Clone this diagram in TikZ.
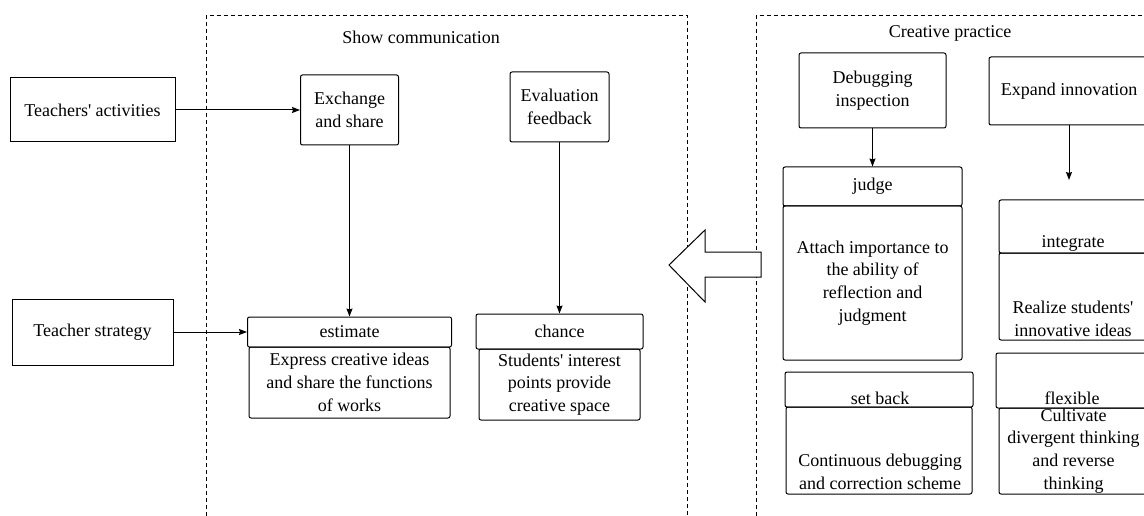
\documentclass[tikz,border=0pt]{standalone}
\usepackage{fontspec}
\setmainfont{Liberation Serif}
\usetikzlibrary{arrows.meta,positioning}

\begin{document}
\begin{tikzpicture}[x=1pt, y=-1pt, >={Stealth[length=8pt, width=6pt, inset=1pt]},
  every node/.style={font=\fontsize{18}{22.7}\selectfont, align=center, inner sep=0pt},
  plain box/.style={draw, line width=1pt},
  round box/.style={draw, line width=1pt, rounded corners=2pt},
  frame/.style={draw, line width=0.8pt, dash pattern=on 4pt off 3pt},
  link/.style={->, line width=1pt}]

\clip (0,0) rectangle (1144,516);

% dashed frames
\draw[frame] (206,530) -- (206,15.5) -- (687,15.5) -- (687,530);
\draw[frame] (756,530) -- (756,15.5) -- (1160,15.5);
\node (show-title) at (421,37) {Show communication};
\node (practice-title) at (950,33) {Creative practice};

% show communication
\node[plain box, minimum width=165, minimum height=64] (activities) at (92.5,110) {Teachers\textquotesingle{} activities};
\node[plain box, minimum width=161, minimum height=66] (strategy) at (92.5,332) {Teacher strategy};

\node[round box, minimum width=98, minimum height=70] (exchange) at (349.5,110) {Exchange\\and share};
\node[round box, minimum width=99, minimum height=70] (evaluation) at (559.5,107) {Evaluation\\feedback};

\node[round box, minimum width=204, minimum height=30] (estimate) at (349.5,332) {estimate};
\node[round box, minimum width=201, minimum height=71] (estimate-body) at (349.5,382.5)
  {Express creative ideas\\and share the functions\\of works};
\node[round box, minimum width=167, minimum height=35] (chance) at (559.5,331.5) {chance};
\node[round box, minimum width=161, minimum height=71] (chance-body) at (559.5,384.5)
  {Students\textquotesingle{} interest\\points provide\\creative space};

\draw[link] (activities) -- (exchange);
\draw[link] (strategy) -- (estimate);
\draw[link] (exchange) -- (estimate);
\draw[link] (evaluation) -- (chance);

% hollow arrow between the frames
\draw[line width=1pt, fill=white] (761,252) -- (705,252) -- (705,230) -- (669,265)
  -- (705,302) -- (705,277) -- (761,277) -- cycle;

% creative practice
\node[round box, minimum width=147, minimum height=75] (debugging) at (872.5,90.5) {Debugging\\inspection};
\node[round box, minimum width=160, minimum height=68] (expand) at (1069,91) {Expand innovation};

\node[round box, minimum width=179, minimum height=39] (judge) at (872.5,186.5) {judge};
\node[round box, minimum width=179, minimum height=154] (judge-body) at (872.5,283)
  {Attach importance to\\the ability of\\reflection and\\judgment};

\node[round box, minimum width=148, minimum height=53] (integrate) at (1073,226.5) {};
\node (integrate-text) at (1073,243) {integrate};
\node[round box, minimum width=148, minimum height=87] (integrate-body) at (1073,296.5) {};
\node (integrate-body-text) at (1073,318.5) {Realize students\textquotesingle\\innovative ideas};

\node[round box, minimum width=188, minimum height=35] (setback) at (879,389.5) {};
\node (setback-text) at (880,398) {set back};
\node[round box, minimum width=186, minimum height=87] (setback-body) at (879,450.5) {};
\node (setback-body-text) at (880,472) {Continuous debugging\\and correction scheme};

\node[round box, minimum width=152, minimum height=55] (flexible) at (1072,380.5) {};
\node (flexible-text) at (1072,398) {flexible};
\node[round box, minimum width=149, minimum height=86] (flexible-body) at (1073.5,451)
  {Cultivate\\divergent thinking\\and reverse\\thinking};

\coordinate (integrate-in) at (1069,180);
\draw[link] (debugging) -- (judge);
\draw[link] (expand) -- (integrate-in);

\end{tikzpicture}
\end{document}
